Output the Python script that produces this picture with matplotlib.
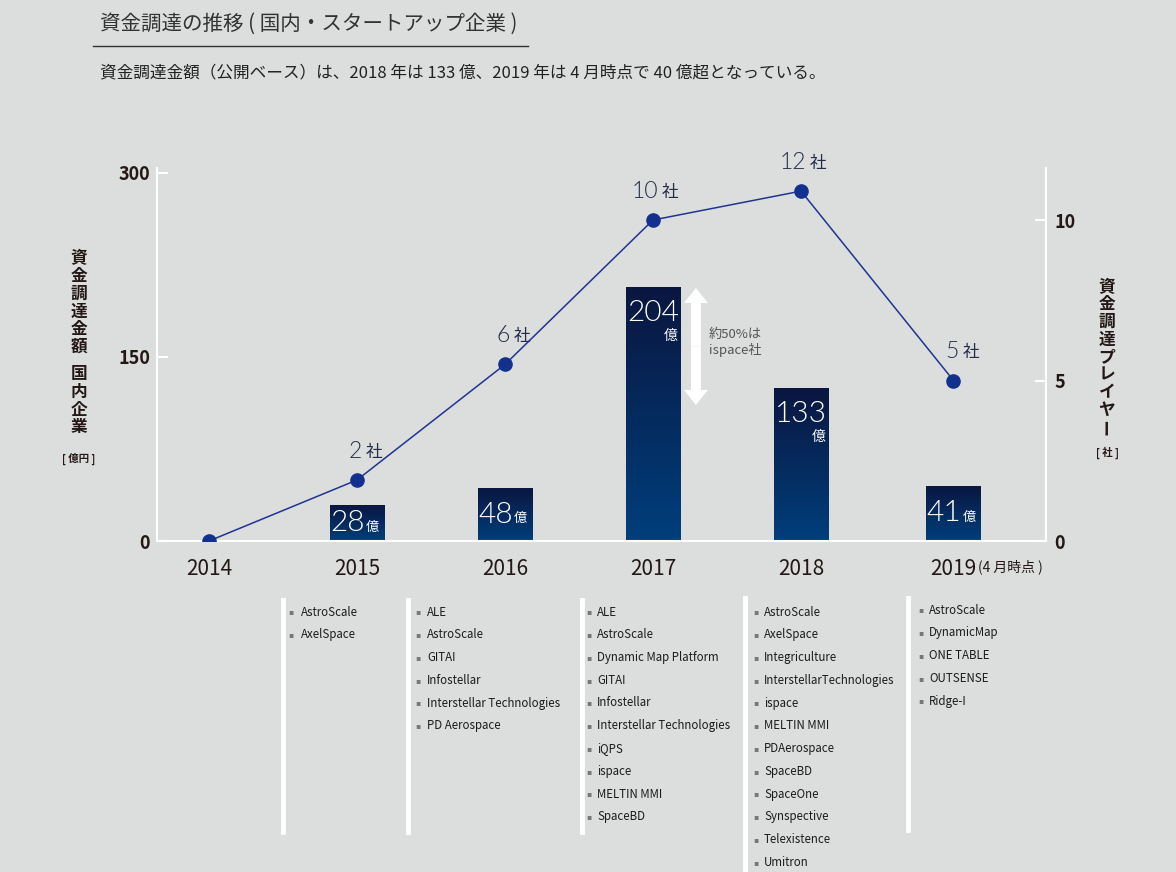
import numpy as np
import matplotlib
matplotlib.use('Agg')
import matplotlib.pyplot as plt
from matplotlib.colors import LinearSegmentedColormap
from matplotlib.patches import FancyArrow
from matplotlib.lines import Line2D

# ---------------- data ----------------
years = ['2014', '2015', '2016', '2017', '2018', '2019']
year_pos = [0, 1, 2, 3, 4, 5.03]              # category positions as spaced in the picture
bar_year_index = [1, 2, 3, 4, 5]
funding_label = [28, 48, 204, 133, 41]        # 億円 (labelled values)
funding_drawn = [29, 43, 207, 125, 45]        # bar heights as drawn in the picture
player_label = [None, 2, 6, 10, 12, 5]        # 社 (labelled values)
player_drawn = [0, 1.9, 5.5, 10, 10.9, 5]     # marker heights as drawn
left_ticks = [0, 150, 300]
right_ticks = [0, 5, 10]

companies_2015 = ['AstroScale', 'AxelSpace']
companies_2016 = ['ALE', 'AstroScale', 'GITAI', 'Infostellar',
                  'Interstellar Technologies', 'PD Aerospace']
companies_2017 = ['ALE', 'AstroScale', 'Dynamic Map Platform', 'GITAI', 'Infostellar',
                  'Interstellar Technologies', 'iQPS', 'ispace', 'MELTIN MMI', 'SpaceBD']
companies_2018 = ['AstroScale', 'AxelSpace', 'Integriculture', 'InterstellarTechnologies',
                  'ispace', 'MELTIN MMI', 'PDAerospace', 'SpaceBD', 'SpaceOne',
                  'Synspective', 'Telexistence', 'Umitron']
companies_2019 = ['AstroScale', 'DynamicMap', 'ONE TABLE', 'OUTSENSE', 'Ridge-I']

title = '資金調達の推移 ( 国内・スタートアップ企業 )'
subtitle = '資金調達金額（公開ベース）は、2018 年は 133 億、2019 年は 4 月時点で 40 億超となっている。'

# ---------------- style ----------------
plt.rcParams['font.family'] = ['Noto Sans CJK JP', 'DejaVu Sans']
BG = '#dcdddd'
DARK = '#231815'
NAVY_TXT = '#252d4a'
LINE_C = '#1e3592'
MARK_C = '#14308e'
NUMFONT = ['Lato', 'Noto Sans CJK JP', 'DejaVu Sans']

W, H = 1176, 872
fig = plt.figure(figsize=(W / 100, H / 100), dpi=100, facecolor=BG)


def fx(x):
    return x / W


def fy(y):
    return 1 - y / H


XL = (-0.351, 5.655)
YL = (0, 304)

# axes placement
ax = fig.add_axes([fx(157), fy(541), (1046 - 157) / W, (541 - 168) / H])
ax.set_facecolor('none')
ax2 = ax.twinx()
ax2.set_facecolor('none')

xs = np.array(year_pos)

# gradient bars
cmap = LinearSegmentedColormap.from_list('bar', ['#003f7c', '#0a1640'])
grad = np.linspace(0, 1, 256).reshape(-1, 1)
bw = 0.365
bars = ax.bar([xs[i] for i in bar_year_index], funding_drawn, width=bw,
              color='none', edgecolor='none', zorder=2)
for b in bars:
    im = ax.imshow(grad, extent=[b.get_x(), b.get_x() + b.get_width(), 0, b.get_height()],
                   origin='lower', aspect='auto', cmap=cmap, zorder=2)
    im.set_clip_path(b)

# bar labels
for b, lab in zip(bars, funding_label):
    cx = b.get_x() + b.get_width() / 2
    h = b.get_height()
    if h > 100:
        ax.annotate(str(lab), xy=(cx, h), xytext=(0, -26), textcoords='offset pixels',
                    ha='center', va='center', color='white', fontsize=21.5,
                    family=NUMFONT, fontweight=300, zorder=5)
        ax.annotate('億', xy=(b.get_x() + b.get_width(), h), xytext=(-2, -49),
                    textcoords='offset pixels', ha='right', va='center',
                    color='white', fontsize=10, zorder=5)
    else:
        ax.annotate(str(lab), xy=(cx, h / 2), xytext=(8, 0), textcoords='offset pixels',
                    ha='right', va='center', color='white', fontsize=21.5,
                    family=NUMFONT, fontweight=300, zorder=5)
        ax.annotate('億', xy=(cx, h / 2), xytext=(9, -4), textcoords='offset pixels',
                    ha='left', va='center', color='white', fontsize=9.5, zorder=5)

# arrow (ispace share) on 2017 bar
ax_x = 3.29
top_v, bot_v = 206.2, 110.9
mid_v = (top_v + bot_v) / 2
px_x = (1046 - 157) / (XL[1] - XL[0])
px_y = (541 - 168) / (YL[1] - YL[0])
for end in (top_v, bot_v):
    ax.add_patch(FancyArrow(ax_x, mid_v, 0, end - mid_v, width=10 / px_x,
                            head_width=24 / px_x, head_length=15 / px_y,
                            length_includes_head=True, color='white', lw=0, zorder=4))
ax.annotate('約50%は\nispace社', xy=(ax_x, mid_v), xytext=(13, 4),
            textcoords='offset pixels', ha='left', va='center', fontsize=9.5,
            color='#555555', linespacing=1.25)

# line
ax2.plot(xs, player_drawn, color=LINE_C, lw=1.1, marker='o', ms=9.5,
         mfc=MARK_C, mec=MARK_C, zorder=6)
for x, v, lab in zip(xs, player_drawn, player_label):
    if lab is None:
        continue
    ax2.annotate(str(lab), xy=(x, v), xytext=(5, 29), textcoords='offset pixels',
                 ha='right', va='center', fontsize=16.5, color=NAVY_TXT,
                 family=NUMFONT, fontweight=300)
    ax2.annotate('社', xy=(x, v), xytext=(9, 28), textcoords='offset pixels',
                 ha='left', va='center', fontsize=12, color=NAVY_TXT)

# limits
ax.set_xlim(*XL)
ax.set_ylim(*YL)
ax2.set_ylim(0, 11.62)

# spines and ticks
for s in ['top', 'right']:
    ax.spines[s].set_visible(False)
for s in ['top', 'left', 'bottom']:
    ax2.spines[s].set_visible(False)
for sp in [ax.spines['left'], ax.spines['bottom'], ax2.spines['right']]:
    sp.set_color('white')
    sp.set_linewidth(1.5)

ax.set_yticks(left_ticks)
ax.set_yticklabels([str(t) for t in left_ticks], fontsize=13, fontweight='bold', color=DARK)
ax.tick_params(axis='y', direction='in', length=8, width=1.5, color='white', pad=5)
ax2.set_yticks(right_ticks)
ax2.set_yticklabels([str(t) for t in right_ticks], fontsize=13, fontweight='bold', color=DARK)
ax2.tick_params(axis='y', direction='in', length=8, width=1.5, color='white', pad=6)
ax.set_xticks(xs)
ax.set_xticklabels(years, fontsize=15, color=DARK)
ax.tick_params(axis='x', length=0, pad=12)

fig.text(fx(978), fy(567), '(4 月時点 )', fontsize=10, color=DARK, ha='left', va='center')

# title / subtitle
fig.text(fx(100), fy(24), title, fontsize=14.8, color='#333333', ha='left', va='center')
fig.add_artist(Line2D([fx(93), fx(528)], [fy(46), fy(46)], color='#333333', lw=1))
fig.text(fx(100), fy(73), subtitle, fontsize=12, color='#222222', ha='left', va='center')


# vertical axis titles
def vtext(chars, x, y0, pitch, **kw):
    for i, ch in enumerate(chars):
        rot = 90 if ch == 'ー' else 0
        fig.text(fx(x), fy(y0 + i * pitch), ch, ha='center', va='center', rotation=rot, **kw)


vtext('資金調達金額', 79, 258, 17.8, fontsize=12, fontweight='bold', color=DARK)
vtext('国内企業', 79, 374, 17.8, fontsize=12, fontweight='bold', color=DARK)
fig.text(fx(79), fy(459), '[ 億円 ]', fontsize=7.5, fontweight='bold', color=DARK,
         ha='center', va='center')
vtext('資金調達プレイヤー', 1107, 287, 17.5, fontsize=12, fontweight='bold', color=DARK)
fig.text(fx(1107), fy(453), '[ 社 ]', fontsize=7.5, fontweight='bold', color=DARK,
         ha='center', va='center')

# company lists
columns = [companies_2015, companies_2016, companies_2017, companies_2018, companies_2019]
bar_x = [283, 408, 582, 745, 908]
text_x = [301, 427, 597, 764, 929]
bullet_x = [291, 418, 589, 756, 921]
first_y = [612, 612, 612, 612, 610]
vbar = [(600, 832), (600, 832), (600, 832), (598, 872), (598, 830)]
pitch = 22.75
for comps, bx, tx, ux, y0, (v0, v1) in zip(columns, bar_x, text_x, bullet_x, first_y, vbar):
    fig.add_artist(Line2D([fx(bx), fx(bx)], [fy(v0), fy(v1)], color='white', lw=3.5))
    for i, c in enumerate(comps):
        y = y0 + i * pitch
        fig.text(fx(ux), fy(y), '▪', fontsize=5.5, color='#777777', ha='center', va='center',
                 family=['DejaVu Sans'])
        fig.text(fx(tx), fy(y), c, fontsize=8.3, color='#1c1c1c', ha='left', va='center')

fig.savefig('out.png', dpi=100, facecolor=BG)
